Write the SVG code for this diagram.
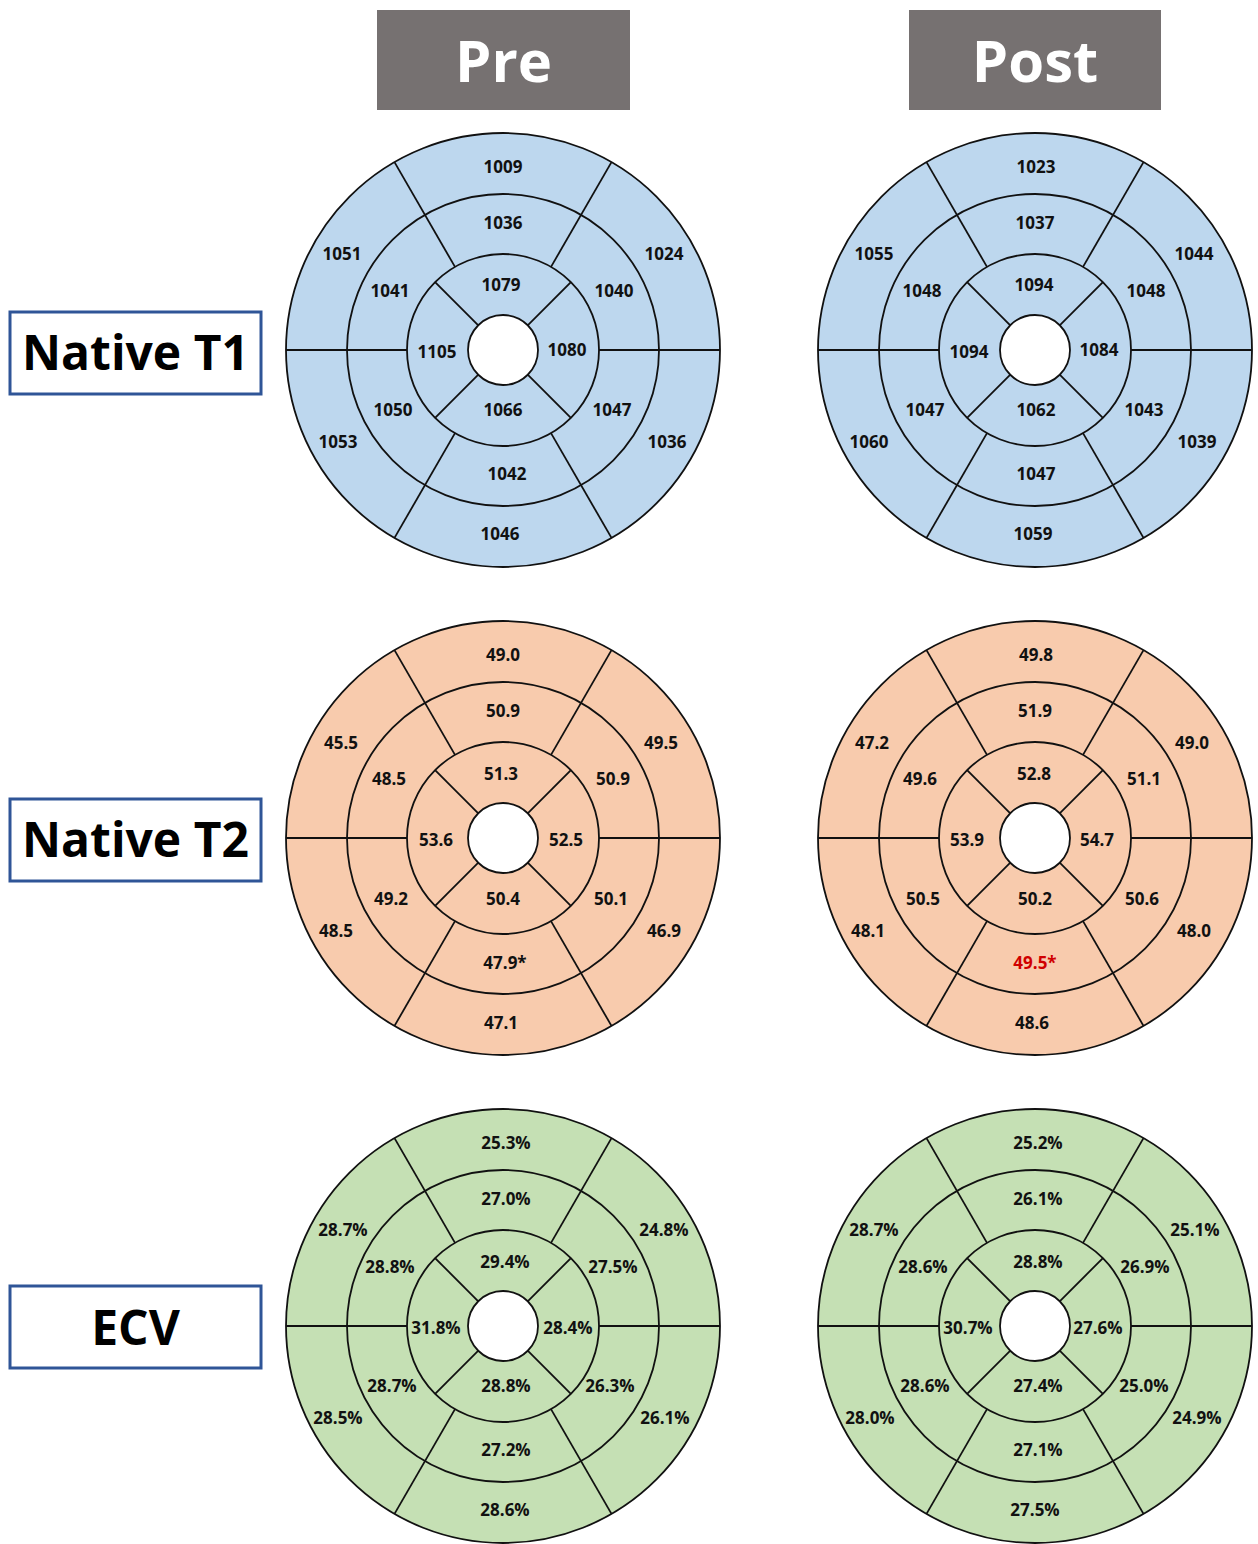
<svg xmlns="http://www.w3.org/2000/svg" xmlns:xlink="http://www.w3.org/1999/xlink" width="1258" height="1544" viewBox="0 0 1258 1544">
<style>
.hdr{fill:#767171}
.hdrt{font-family:"Open Sans","Liberation Sans",sans-serif;font-weight:700;font-size:58px;fill:#ffffff;text-anchor:middle}
.lbl{fill:#ffffff;stroke:#2F5597;stroke-width:3}
.lblt{font-family:"Open Sans","Liberation Sans",sans-serif;font-weight:700;font-size:48px;fill:#000000;text-anchor:middle}
.ln{stroke:#111111;stroke-width:1.8;fill:none}
.t1{fill:#BDD7EE}
.t2{fill:#F8CBAD}
.ecv{fill:#C5E0B4}
.v{font-family:"Open Sans","Liberation Sans",sans-serif;font-weight:700;font-size:17px;fill:#111111;text-anchor:middle}
.red{fill:#D00000}
</style>
<defs>
<g id="grid">
<circle class="ln" r="217"/>
<circle class="ln" r="156"/>
<circle class="ln" r="96"/>
<circle r="35" fill="#ffffff" stroke="#111111" stroke-width="1.8"/>
<line class="ln" x1="-48" y1="-83.1" x2="-108.5" y2="-187.9"/>
<line class="ln" x1="48" y1="-83.1" x2="108.5" y2="-187.9"/>
<line class="ln" x1="-48" y1="83.1" x2="-108.5" y2="187.9"/>
<line class="ln" x1="48" y1="83.1" x2="108.5" y2="187.9"/>
<line class="ln" x1="-217" y1="0" x2="-96" y2="0"/>
<line class="ln" x1="96" y1="0" x2="217" y2="0"/>
<line class="ln" x1="-24.7" y1="-24.7" x2="-67.9" y2="-67.9"/>
<line class="ln" x1="24.7" y1="-24.7" x2="67.9" y2="-67.9"/>
<line class="ln" x1="-24.7" y1="24.7" x2="-67.9" y2="67.9"/>
<line class="ln" x1="24.7" y1="24.7" x2="67.9" y2="67.9"/>
</g>
</defs>

<g id="header-pre"><rect class="hdr" x="377" y="10" width="253" height="100"/><text class="hdrt" x="503.5" y="82">Pre</text></g>
<g id="header-post"><rect class="hdr" x="909" y="10" width="252" height="100"/><text class="hdrt" x="1035" y="82">Post</text></g>

<g id="label-t1"><rect class="lbl" x="10" y="312" width="251" height="82"/><text class="lblt" x="135.5" y="370">Native T1</text></g>
<g id="label-t2"><rect class="lbl" x="10" y="799" width="251" height="82"/><text class="lblt" x="135.5" y="857">Native T2</text></g>
<g id="label-ecv"><rect class="lbl" x="10" y="1286" width="251" height="82"/><text class="lblt" x="135.5" y="1345">ECV</text></g>

<g id="connectors"></g>

<g id="pre-t1" transform="translate(503,350)">
<circle class="t1" r="217"/><use xlink:href="#grid" href="#grid"/>
<text class="v" x="0" y="-177">1009</text>
<text class="v" x="161" y="-90">1024</text>
<text class="v" x="164" y="98">1036</text>
<text class="v" x="-3" y="190">1046</text>
<text class="v" x="-165" y="98">1053</text>
<text class="v" x="-161" y="-90">1051</text>
<text class="v" x="0" y="-121">1036</text>
<text class="v" x="111" y="-53">1040</text>
<text class="v" x="109" y="66">1047</text>
<text class="v" x="4" y="130">1042</text>
<text class="v" x="-110" y="66">1050</text>
<text class="v" x="-113" y="-53">1041</text>
<text class="v" x="-2" y="-59">1079</text>
<text class="v" x="64" y="6">1080</text>
<text class="v" x="0" y="66">1066</text>
<text class="v" x="-66" y="8">1105</text>
</g>

<g id="post-t1" transform="translate(1035,350)">
<circle class="t1" r="217"/><use xlink:href="#grid" href="#grid"/>
<text class="v" x="1" y="-177">1023</text>
<text class="v" x="159" y="-90">1044</text>
<text class="v" x="162" y="98">1039</text>
<text class="v" x="-2" y="190">1059</text>
<text class="v" x="-166" y="98">1060</text>
<text class="v" x="-161" y="-90">1055</text>
<text class="v" x="0" y="-121">1037</text>
<text class="v" x="111" y="-53">1048</text>
<text class="v" x="109" y="66">1043</text>
<text class="v" x="1" y="130">1047</text>
<text class="v" x="-110" y="66">1047</text>
<text class="v" x="-113" y="-53">1048</text>
<text class="v" x="-1" y="-59">1094</text>
<text class="v" x="64" y="6">1084</text>
<text class="v" x="1" y="66">1062</text>
<text class="v" x="-66" y="8">1094</text>
</g>

<g id="pre-t2" transform="translate(503,838)">
<circle class="t2" r="217"/><use xlink:href="#grid" href="#grid"/>
<text class="v" x="0" y="-177">49.0</text>
<text class="v" x="158" y="-89">49.5</text>
<text class="v" x="161" y="99">46.9</text>
<text class="v" x="-2" y="191">47.1</text>
<text class="v" x="-167" y="99">48.5</text>
<text class="v" x="-162" y="-89">45.5</text>
<text class="v" x="0" y="-121">50.9</text>
<text class="v" x="110" y="-53">50.9</text>
<text class="v" x="108" y="67">50.1</text>
<text class="v" x="2" y="131">47.9*</text>
<text class="v" x="-112" y="67">49.2</text>
<text class="v" x="-114" y="-53">48.5</text>
<text class="v" x="-2" y="-58">51.3</text>
<text class="v" x="63" y="8">52.5</text>
<text class="v" x="0" y="67">50.4</text>
<text class="v" x="-67" y="8">53.6</text>
</g>

<g id="post-t2" transform="translate(1035,838)">
<circle class="t2" r="217"/><use xlink:href="#grid" href="#grid"/>
<text class="v" x="1" y="-177">49.8</text>
<text class="v" x="157" y="-89">49.0</text>
<text class="v" x="159" y="99">48.0</text>
<text class="v" x="-3" y="191">48.6</text>
<text class="v" x="-167" y="99">48.1</text>
<text class="v" x="-163" y="-89">47.2</text>
<text class="v" x="0" y="-121">51.9</text>
<text class="v" x="109" y="-53">51.1</text>
<text class="v" x="107" y="67">50.6</text>
<text class="v red" x="0" y="131">49.5*</text>
<text class="v" x="-112" y="67">50.5</text>
<text class="v" x="-115" y="-53">49.6</text>
<text class="v" x="-1" y="-58">52.8</text>
<text class="v" x="62" y="8">54.7</text>
<text class="v" x="0" y="67">50.2</text>
<text class="v" x="-68" y="8">53.9</text>
</g>

<g id="pre-ecv" transform="translate(503,1326)">
<circle class="ecv" r="217"/><use xlink:href="#grid" href="#grid"/>
<text class="v" x="3" y="-177">25.3%</text>
<text class="v" x="161" y="-90">24.8%</text>
<text class="v" x="162" y="98">26.1%</text>
<text class="v" x="2" y="190">28.6%</text>
<text class="v" x="-165" y="98">28.5%</text>
<text class="v" x="-160" y="-90">28.7%</text>
<text class="v" x="3" y="-121">27.0%</text>
<text class="v" x="110" y="-53">27.5%</text>
<text class="v" x="107" y="66">26.3%</text>
<text class="v" x="3" y="130">27.2%</text>
<text class="v" x="-111" y="66">28.7%</text>
<text class="v" x="-113" y="-53">28.8%</text>
<text class="v" x="2" y="-58">29.4%</text>
<text class="v" x="65" y="8">28.4%</text>
<text class="v" x="3" y="66">28.8%</text>
<text class="v" x="-67" y="8">31.8%</text>
</g>

<g id="post-ecv" transform="translate(1035,1326)">
<circle class="ecv" r="217"/><use xlink:href="#grid" href="#grid"/>
<text class="v" x="3" y="-177">25.2%</text>
<text class="v" x="160" y="-90">25.1%</text>
<text class="v" x="162" y="98">24.9%</text>
<text class="v" x="0" y="190">27.5%</text>
<text class="v" x="-165" y="98">28.0%</text>
<text class="v" x="-161" y="-90">28.7%</text>
<text class="v" x="3" y="-121">26.1%</text>
<text class="v" x="110" y="-53">26.9%</text>
<text class="v" x="109" y="66">25.0%</text>
<text class="v" x="3" y="130">27.1%</text>
<text class="v" x="-110" y="66">28.6%</text>
<text class="v" x="-112" y="-53">28.6%</text>
<text class="v" x="3" y="-58">28.8%</text>
<text class="v" x="63" y="8">27.6%</text>
<text class="v" x="3" y="66">27.4%</text>
<text class="v" x="-67" y="8">30.7%</text>
</g>
</svg>
